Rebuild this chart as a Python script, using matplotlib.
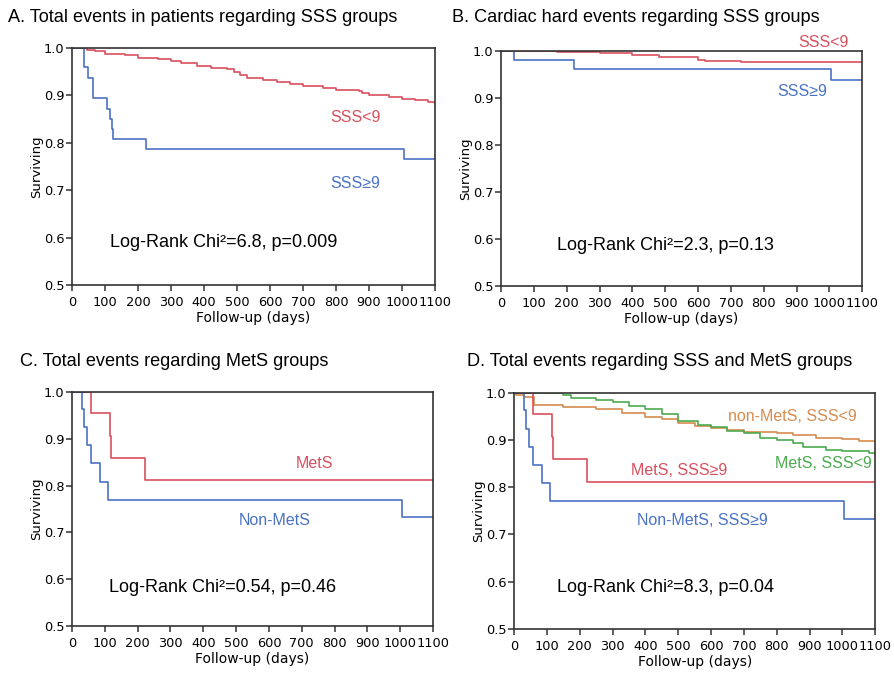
import matplotlib.pyplot as plt

# Panel A: total events by SSS group
a_low_days = [0, 45, 70, 100, 160, 200, 260, 300, 330, 380, 420, 470, 490, 510, 530, 580, 620,
              660, 700, 760, 800, 870, 880, 900, 960, 1000, 1040, 1080, 1100]
a_low_surv = [1.0, 0.997, 0.993, 0.988, 0.985, 0.980, 0.977, 0.972, 0.968, 0.963, 0.958, 0.955,
              0.950, 0.943, 0.937, 0.933, 0.928, 0.924, 0.920, 0.916, 0.911, 0.910, 0.905, 0.900,
              0.897, 0.893, 0.890, 0.886, 0.883]
a_high_days = [0, 35, 50, 65, 105, 115, 120, 125, 225, 1005, 1100]
a_high_surv = [1.0, 0.961, 0.936, 0.894, 0.872, 0.851, 0.830, 0.809, 0.788, 0.767, 0.767]

# Panel B: cardiac hard events by SSS group
b_low_days = [0, 170, 200, 300, 400, 480, 600, 620, 700, 730, 1100]
b_low_surv = [1.0, 0.999, 0.998, 0.995, 0.991, 0.988, 0.982, 0.979, 0.978, 0.976, 0.976]
b_high_days = [0, 40, 223, 1006, 1100]
b_high_surv = [1.0, 0.982, 0.961, 0.939, 0.939]

# Panel C: total events by MetS group
c_mets_days = [0, 59, 115, 120, 223, 1100]
c_mets_surv = [1.0, 0.954, 0.906, 0.859, 0.811, 0.811]
c_non_days = [0, 31, 37, 46, 59, 86, 110, 1005, 1100]
c_non_surv = [1.0, 0.963, 0.924, 0.886, 0.847, 0.808, 0.770, 0.732, 0.732]

# Panel D: total events by SSS and MetS groups
d_nonlow_days = [0, 5, 31, 61, 150, 250, 330, 400, 450, 500, 550, 600, 650, 700, 800, 850,
                 920, 1000, 1050, 1100]
d_nonlow_surv = [1.0, 0.995, 0.990, 0.975, 0.970, 0.965, 0.958, 0.948, 0.945, 0.935, 0.930,
                 0.926, 0.921, 0.918, 0.915, 0.910, 0.905, 0.902, 0.898, 0.897]
d_metslow_days = [0, 100, 150, 173, 250, 300, 350, 400, 450, 500, 560, 600, 650, 700, 750,
                  800, 850, 880, 950, 1000, 1080, 1100]
d_metslow_surv = [1.0, 0.999, 0.995, 0.989, 0.985, 0.980, 0.972, 0.965, 0.955, 0.940, 0.932,
                  0.928, 0.920, 0.915, 0.905, 0.900, 0.893, 0.885, 0.878, 0.876, 0.872, 0.870]
d_metshigh_days = c_mets_days
d_metshigh_surv = c_mets_surv
d_nonhigh_days = c_non_days
d_nonhigh_surv = c_non_surv

RED = '#d9505e'
BLUE = '#4a72c4'
ORANGE = '#d58c4f'
GREEN = '#4caa4f'

xticks = list(range(0, 1101, 100))
yticks = [0.5, 0.6, 0.7, 0.8, 0.9, 1.0]

fig = plt.figure(figsize=(8.94, 6.73), dpi=100)


def setup(ax):
    ax.set_xlim(0, 1100)
    ax.set_ylim(0.5, 1.0)
    ax.set_xticks(xticks)
    ax.set_yticks(yticks)
    ax.set_yticklabels(['%.1f' % v for v in yticks])
    ax.tick_params(direction='out', length=4, width=1.1, labelsize=9.3, color='#333333')
    ax.tick_params(axis='x', pad=4)
    ax.tick_params(axis='y', pad=1.5)
    for s in ax.spines.values():
        s.set_linewidth(1.2)
        s.set_color('#333333')
    ax.set_ylabel('Surviving', fontsize=9.5, labelpad=0.5)
    ax.set_xlabel('Follow-up (days)', fontsize=10, labelpad=1.5)


def note(ax, x, y, s, color, ha='center', size=11.5):
    ax.text(x, y, s, color=color, fontsize=size, ha=ha, va='center',
            family='Liberation Sans', clip_on=False)


def logrank(ax, x, y, s):
    note(ax, x, y, s, 'black', ha='left', size=13)


axA = fig.add_axes([0.0805, 0.5765, 0.406, 0.352])
axA.step(a_low_days, a_low_surv, where='post', color=RED, lw=1.2)
axA.step(a_high_days, a_high_surv, where='post', color=BLUE, lw=1.2)
setup(axA)
note(axA, 858, 0.854, 'SSS<9', RED)
note(axA, 858, 0.715, 'SSS≥9', BLUE)
logrank(axA, 115, 0.589, 'Log-Rank Chi²=6.8, p=0.009')

axB = fig.add_axes([0.5604, 0.575, 0.404, 0.349])
axB.step(b_low_days, b_low_surv, where='post', color=RED, lw=1.2)
axB.step(b_high_days, b_high_surv, where='post', color=BLUE, lw=1.2)
setup(axB)
note(axB, 981, 1.019, 'SSS<9', RED)
note(axB, 917, 0.915, 'SSS≥9', BLUE)
logrank(axB, 171, 0.587, 'Log-Rank Chi²=2.3, p=0.13')

axC = fig.add_axes([0.0805, 0.0698, 0.404, 0.348])
axC.step(c_mets_days, c_mets_surv, where='post', color=RED, lw=1.2)
axC.step(c_non_days, c_non_surv, where='post', color=BLUE, lw=1.2)
setup(axC)
note(axC, 740, 0.846, 'MetS', RED)
note(axC, 619, 0.726, 'Non-MetS', BLUE)
logrank(axC, 113, 0.583, 'Log-Rank Chi²=0.54, p=0.46')

axD = fig.add_axes([0.575, 0.0654, 0.404, 0.351])
axD.step(d_nonlow_days, d_nonlow_surv, where='post', color=ORANGE, lw=1.2)
axD.step(d_metslow_days, d_metslow_surv, where='post', color=GREEN, lw=1.2)
axD.step(d_metshigh_days, d_metshigh_surv, where='post', color=RED, lw=1.2)
axD.step(d_nonhigh_days, d_nonhigh_surv, where='post', color=BLUE, lw=1.2)
setup(axD)
note(axD, 847, 0.949, 'non-MetS, SSS<9', ORANGE)
note(axD, 942, 0.850, 'MetS, SSS<9', GREEN)
note(axD, 503, 0.835, 'MetS, SSS≥9', RED)
note(axD, 573, 0.729, 'Non-MetS, SSS≥9', BLUE)
logrank(axD, 131, 0.587, 'Log-Rank Chi²=8.3, p=0.04')

title_kw = dict(fontsize=13.1, family='Liberation Sans', va='center', ha='left')
fig.text(8 / 894, 1 - 18 / 673, 'A. Total events in patients regarding SSS groups', **title_kw)
fig.text(452 / 894, 1 - 18 / 673, 'B. Cardiac hard events regarding SSS groups', **title_kw)
fig.text(20 / 894, 1 - 361 / 673, 'C. Total events regarding MetS groups', **title_kw)
fig.text(467 / 894, 1 - 362 / 673, 'D. Total events regarding SSS and MetS groups', **title_kw)

fig.savefig('out.png', dpi=100)
